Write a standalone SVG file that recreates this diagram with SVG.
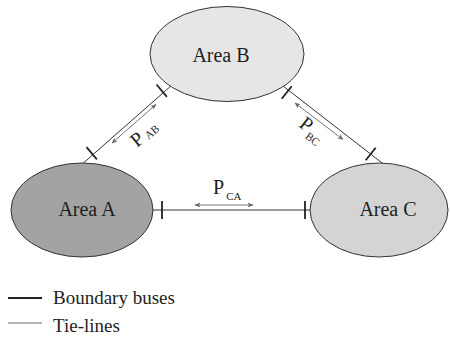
<svg xmlns="http://www.w3.org/2000/svg" width="450" height="338" viewBox="0 0 450 338">
  <style>
    .txt { font-family: "Liberation Serif", "Times New Roman", serif; fill: #1e1e1e; }
    .area { stroke: #333; stroke-width: 1; }
    .tie { stroke: #333; stroke-width: 1; fill: none; }
    .bus { stroke: #222; stroke-width: 1.8; fill: none; }
    .flow { stroke: #666; stroke-width: 0.9; fill: none; marker-start: url(#head); marker-end: url(#head); }
  </style>
  <defs>
    <marker id="head" viewBox="0 0 10 10" refX="9" refY="5" markerWidth="6" markerHeight="6" orient="auto-start-reverse" markerUnits="userSpaceOnUse">
      <path d="M0,1 L10,5 L0,9 L2.5,5 Z" fill="#666"/>
    </marker>
  </defs>

  <rect width="450" height="338" fill="#fff"/>

  <!-- tie-lines, boundary buses and power-flow arrows -->
  <g id="connectors">
    <line class="tie" x1="80" y1="166" x2="172" y2="85"/>
    <line class="tie" x1="274" y1="79" x2="386" y2="166"/>
    <line class="tie" x1="150" y1="210" x2="312" y2="210"/>

    <line class="bus" x1="86.5" y1="147.2" x2="96.9" y2="159.4"/>
    <line class="bus" x1="156.5" y1="84.5" x2="166.9" y2="96.9"/>
    <line class="bus" x1="291.7" y1="86.2" x2="281.7" y2="98.8"/>
    <line class="bus" x1="375.7" y1="147.7" x2="365.7" y2="160.3"/>
    <line class="bus" x1="162" y1="201" x2="162" y2="219"/>
    <line class="bus" x1="305" y1="201" x2="305" y2="219"/>

    <line class="flow" x1="112" y1="143" x2="156" y2="104.5"/>
    <line class="flow" x1="295" y1="103" x2="343" y2="139.5"/>
    <line class="flow" x1="195" y1="205" x2="253" y2="205"/>
  </g>

  <g id="area-b">
    <ellipse class="area" cx="227" cy="54" rx="77" ry="47.5" fill="#e6e6e6"/>
    <text class="txt" x="221" y="62" font-size="20" text-anchor="middle">Area B</text>
  </g>
  <g id="area-a">
    <ellipse class="area" cx="82" cy="210" rx="71" ry="47" fill="#a3a3a3"/>
    <text class="txt" x="87" y="216" font-size="20" text-anchor="middle">Area A</text>
  </g>
  <g id="area-c">
    <ellipse class="area" cx="379" cy="210" rx="69" ry="47" fill="#d4d4d4"/>
    <text class="txt" x="388" y="216" font-size="20" text-anchor="middle">Area C</text>
  </g>

  <!-- flow labels -->
  <g id="label-ab" transform="translate(137,148) rotate(-40)">
    <text class="txt" x="0" y="0" font-size="20">P<tspan font-size="11" dx="3" dy="1">AB</tspan></text>
  </g>
  <g id="label-bc" transform="translate(298,126) rotate(38)">
    <text class="txt" x="0" y="0" font-size="20">P<tspan font-size="11" dx="1" dy="5">BC</tspan></text>
  </g>
  <g id="label-ca">
    <text class="txt" x="213" y="194" font-size="20">P<tspan font-size="11" dx="2" dy="6">CA</tspan></text>
  </g>

  <!-- legend -->
  <g id="legend">
    <line x1="8" y1="298" x2="42" y2="298" stroke="#222" stroke-width="1.8"/>
    <text class="txt" x="53" y="304" font-size="19">Boundary buses</text>
    <line x1="8" y1="323" x2="42" y2="323" stroke="#555" stroke-width="0.9"/>
    <text class="txt" x="53" y="332" font-size="19">Tie-lines</text>
  </g>
</svg>
